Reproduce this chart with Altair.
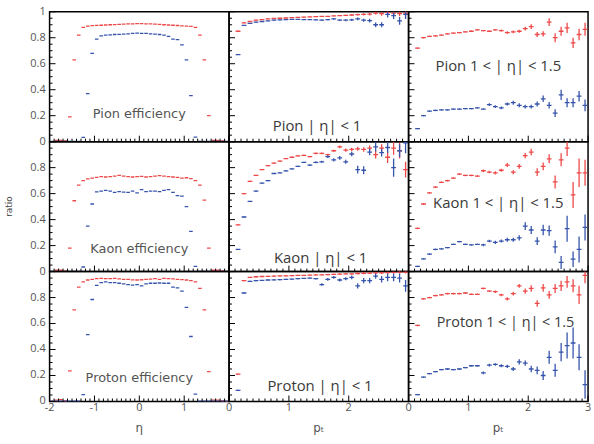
import altair as alt
import pandas as pd

# ---------------- data ----------------
ETA = [-1.95, -1.85, -1.75, -1.65, -1.55, -1.45, -1.35, -1.25, -1.15, -1.05,
       -0.95, -0.85, -0.75, -0.65, -0.55, -0.45, -0.35, -0.25, -0.15, -0.05,
       0.05, 0.15, 0.25, 0.35, 0.45, 0.55, 0.65, 0.75, 0.85, 0.95,
       1.05, 1.15, 1.25, 1.35, 1.45, 1.55, 1.65, 1.75, 1.85, 1.95]
PT = [0.15, 0.25, 0.35, 0.45, 0.55, 0.65, 0.75, 0.85, 0.95, 1.05,
      1.15, 1.25, 1.35, 1.45, 1.55, 1.65, 1.75, 1.85, 1.95, 2.05,
      2.15, 2.25, 2.35, 2.45, 2.55, 2.65, 2.75, 2.85, 2.95]

# efficiency vs eta
PION_ETA_RED = [0.0, 0.01, 0.01, 0.005, 0.19, 0.63, 0.82, 0.88, 0.89, 0.893,
                0.895, 0.896, 0.898, 0.9, 0.901, 0.902, 0.904, 0.906, 0.907, 0.908,
                0.908, 0.907, 0.906, 0.904, 0.902, 0.9, 0.898, 0.896, 0.894, 0.892,
                0.89, 0.887, 0.88, 0.82, 0.63, 0.2, 0.01, 0.01, 0.005, 0.0]
PION_ETA_BLUE = [0.002, 0.002, 0.002, 0.002, 0.002, 0.002, 0.002, 0.033, 0.37, 0.68,
                 0.79, 0.815, 0.82, 0.822, 0.825, 0.826, 0.828, 0.83, 0.833, 0.835,
                 0.834, 0.833, 0.83, 0.828, 0.825, 0.82, 0.81, 0.79, 0.785, 0.745,
                 0.63, 0.355, 0.035, 0.002, 0.002, 0.002, 0.002, 0.002, 0.002, 0.002]
KAON_ETA_RED = [0.0, 0.01, 0.01, 0.005, 0.18, 0.545, 0.665, 0.70, 0.713, 0.72,
                0.725, 0.73, 0.728, 0.73, 0.735, 0.74, 0.735, 0.73, 0.728, 0.73,
                0.732, 0.728, 0.73, 0.735, 0.738, 0.735, 0.73, 0.728, 0.725, 0.72,
                0.722, 0.715, 0.70, 0.665, 0.55, 0.18, 0.01, 0.01, 0.005, 0.0]
KAON_ETA_BLUE = [0.002, 0.002, 0.002, 0.002, 0.002, 0.002, 0.002, 0.035, 0.35, 0.52,
                 0.613, 0.62, 0.625, 0.62, 0.61, 0.615, 0.612, 0.61, 0.62, 0.605,
                 0.63, 0.615, 0.62, 0.62, 0.615, 0.625, 0.63, 0.61, 0.585, 0.58,
                 0.50, 0.31, 0.04, 0.002, 0.002, 0.002, 0.002, 0.002, 0.002, 0.002]
PROTON_ETA_RED = [0.0, 0.01, 0.015, 0.005, 0.235, 0.705, 0.88, 0.92, 0.935, 0.94,
                  0.945, 0.948, 0.946, 0.945, 0.948, 0.944, 0.94, 0.94, 0.936, 0.935,
                  0.937, 0.94, 0.942, 0.945, 0.94, 0.948, 0.946, 0.944, 0.94, 0.938,
                  0.935, 0.93, 0.92, 0.87, 0.705, 0.23, 0.01, 0.01, 0.005, 0.0]
PROTON_ETA_BLUE = [0.002, 0.002, 0.002, 0.002, 0.002, 0.002, 0.002, 0.053, 0.515, 0.785,
                   0.894, 0.915, 0.92, 0.915, 0.915, 0.91, 0.905, 0.90, 0.895, 0.90,
                   0.89, 0.905, 0.91, 0.91, 0.912, 0.91, 0.91, 0.88, 0.875, 0.85,
                   0.725, 0.50, 0.056, 0.002, 0.002, 0.002, 0.002, 0.002, 0.002, 0.002]

# ratio vs pt, |eta| < 1
PION_MID_RED = [0.85, 0.915, 0.925, 0.935, 0.94, 0.945, 0.948, 0.95, 0.952, 0.955,
                0.956, 0.958, 0.96, 0.962, 0.965, 0.965, 0.968, 0.97, 0.972, 0.975,
                0.978, 0.98, 0.982, 0.99, 0.985, 0.995, 0.99, 0.985, 0.99]
PION_MID_RED_ERR = [0.003, 0.003, 0.003, 0.003, 0.003, 0.003, 0.003, 0.003, 0.003, 0.003,
                    0.003, 0.003, 0.003, 0.003, 0.003, 0.003, 0.003, 0.003, 0.005, 0.006,
                    0.007, 0.008, 0.01, 0.012, 0.015, 0.015, 0.02, 0.02, 0.025]
PION_MID_BLUE = [0.67, 0.895, 0.91, 0.92, 0.925, 0.93, 0.935, 0.938, 0.94, 0.942,
                 0.942, 0.94, 0.94, 0.938, 0.936, 0.94, 0.945, 0.935, 0.935, 0.938,
                 0.945, 0.935, 0.932, 0.90, 0.90, 0.98, 0.97, 0.93, 0.98]
PION_MID_BLUE_ERR = [0.003, 0.003, 0.003, 0.003, 0.003, 0.003, 0.003, 0.003, 0.003, 0.003,
                     0.003, 0.003, 0.003, 0.004, 0.005, 0.005, 0.006, 0.007, 0.008, 0.009,
                     0.01, 0.012, 0.014, 0.018, 0.02, 0.025, 0.025, 0.03, 0.035]
KAON_MID_RED = [0.36, 0.60, 0.695, 0.74, 0.785, 0.815, 0.835, 0.85, 0.87, 0.88,
                0.89, 0.895, 0.885, 0.91, 0.91, 0.90, 0.93, 0.96, 0.935, 0.94,
                0.945, 0.94, 0.95, 0.90, 0.95, 0.88, 0.95, 0.93, 0.785]
KAON_MID_RED_ERR = [0.004, 0.004, 0.004, 0.004, 0.004, 0.004, 0.004, 0.004, 0.004, 0.004,
                    0.004, 0.004, 0.005, 0.006, 0.006, 0.007, 0.008, 0.01, 0.012, 0.013,
                    0.015, 0.017, 0.02, 0.03, 0.03, 0.045, 0.05, 0.06, 0.06]
KAON_MID_BLUE = [0.17, 0.42, 0.54, 0.62, 0.68, 0.70, 0.755, 0.76, 0.775, 0.79,
                 0.81, 0.84, 0.82, 0.84, 0.845, 0.885, 0.86, 0.875, 0.845, 0.905,
                 0.785, 0.78, 0.92, 0.96, 0.915, 0.955, 0.80, 0.93, 0.99]
KAON_MID_BLUE_ERR = [0.004, 0.004, 0.004, 0.004, 0.004, 0.004, 0.004, 0.004, 0.004, 0.004,
                     0.004, 0.004, 0.006, 0.007, 0.008, 0.01, 0.012, 0.014, 0.015, 0.018,
                     0.03, 0.03, 0.025, 0.035, 0.03, 0.04, 0.07, 0.05, 0.08]
PROTON_MID_RED = [0.21, 0.93, 0.955, 0.96, 0.962, 0.963, 0.965, 0.966, 0.967, 0.968,
                  0.97, 0.97, 0.972, 0.974, 0.975, 0.976, 0.978, 0.98, 0.982, 0.983,
                  0.985, 0.987, 0.988, 0.99, 0.99, 0.992, 0.993, 0.995, 0.995]
PROTON_MID_RED_ERR = [0.004, 0.004, 0.004, 0.004, 0.004, 0.004, 0.004, 0.004, 0.004, 0.004,
                      0.004, 0.004, 0.004, 0.004, 0.004, 0.004, 0.005, 0.005, 0.005, 0.006,
                      0.006, 0.007, 0.007, 0.008, 0.008, 0.009, 0.01, 0.01, 0.01]
PROTON_MID_BLUE = [0.086, 0.835, 0.925, 0.93, 0.932, 0.935, 0.936, 0.938, 0.94, 0.942,
                   0.945, 0.947, 0.95, 0.945, 0.90, 0.94, 0.955, 0.935, 0.945, 0.955,
                   0.89, 0.93, 0.93, 0.965, 0.94, 0.955, 0.955, 0.95, 0.89]
PROTON_MID_BLUE_ERR = [0.004, 0.004, 0.004, 0.004, 0.004, 0.004, 0.004, 0.004, 0.004, 0.004,
                       0.004, 0.004, 0.005, 0.006, 0.01, 0.01, 0.01, 0.012, 0.012, 0.014,
                       0.02, 0.02, 0.02, 0.02, 0.025, 0.03, 0.03, 0.035, 0.045]

# ratio vs pt, 1 < |eta| < 1.5
PION_FWD_RED = [0.72, 0.80, 0.81, 0.815, 0.82, 0.83, 0.835, 0.84, 0.845, 0.85,
                0.86, 0.855, 0.85, 0.86, 0.855, 0.84, 0.845, 0.85, 0.87, 0.885,
                0.825, 0.83, 0.92, 0.80, 0.85, 0.876, 0.76, 0.825, 0.865]
PION_FWD_RED_ERR = [0.005, 0.005, 0.005, 0.005, 0.005, 0.005, 0.005, 0.005, 0.005, 0.005,
                    0.005, 0.005, 0.005, 0.005, 0.008, 0.01, 0.01, 0.012, 0.015, 0.018,
                    0.02, 0.02, 0.03, 0.035, 0.035, 0.04, 0.04, 0.045, 0.05]
PION_FWD_BLUE = [0.10, 0.20, 0.235, 0.24, 0.245, 0.245, 0.25, 0.25, 0.255, 0.255,
                 0.26, 0.25, 0.285, 0.27, 0.26, 0.29, 0.30, 0.28, 0.27, 0.27,
                 0.29, 0.33, 0.28, 0.22, 0.36, 0.30, 0.30, 0.35, 0.28]
PION_FWD_BLUE_ERR = [0.005, 0.005, 0.005, 0.005, 0.005, 0.005, 0.005, 0.005, 0.005, 0.005,
                     0.005, 0.005, 0.01, 0.01, 0.01, 0.012, 0.015, 0.015, 0.015, 0.015,
                     0.02, 0.025, 0.025, 0.03, 0.04, 0.035, 0.035, 0.04, 0.045]
KAON_FWD_RED = [0.333, 0.52, 0.605, 0.65, 0.687, 0.70, 0.72, 0.75, 0.74, 0.74,
                0.735, 0.776, 0.766, 0.76, 0.78, 0.82, 0.765, 0.81, 0.893, 0.92,
                0.766, 0.81, 0.868, 0.69, 0.86, 0.95, 0.59, 0.76, 0.76]
KAON_FWD_RED_ERR = [0.006, 0.006, 0.006, 0.006, 0.006, 0.006, 0.006, 0.006, 0.006, 0.006,
                    0.006, 0.01, 0.01, 0.012, 0.012, 0.015, 0.015, 0.018, 0.02, 0.025,
                    0.03, 0.03, 0.035, 0.05, 0.05, 0.06, 0.1, 0.11, 0.1]
KAON_FWD_BLUE = [0.04, 0.097, 0.135, 0.17, 0.175, 0.185, 0.21, 0.23, 0.21, 0.205,
                 0.21, 0.205, 0.235, 0.225, 0.235, 0.245, 0.245, 0.26, 0.35, 0.32,
                 0.235, 0.32, 0.315, 0.19, 0.07, 0.33, 0.095, 0.17, 0.34]
KAON_FWD_BLUE_ERR = [0.005, 0.005, 0.005, 0.005, 0.005, 0.005, 0.005, 0.005, 0.005, 0.005,
                     0.005, 0.01, 0.01, 0.012, 0.012, 0.015, 0.015, 0.02, 0.03, 0.03,
                     0.03, 0.04, 0.04, 0.05, 0.05, 0.1, 0.06, 0.1, 0.1]
PROTON_FWD_RED = [0.585, 0.79, 0.80, 0.815, 0.82, 0.83, 0.83, 0.83, 0.835, 0.825,
                  0.825, 0.87, 0.85, 0.845, 0.82, 0.79, 0.83, 0.89, 0.85, 0.87,
                  0.755, 0.875, 0.82, 0.87, 0.89, 0.92, 0.89, 0.82, 0.97]
PROTON_FWD_RED_ERR = [0.006, 0.006, 0.006, 0.006, 0.006, 0.006, 0.006, 0.006, 0.006, 0.006,
                      0.006, 0.006, 0.006, 0.01, 0.01, 0.012, 0.015, 0.015, 0.02, 0.025,
                      0.025, 0.03, 0.03, 0.035, 0.04, 0.045, 0.05, 0.07, 0.06]
PROTON_FWD_BLUE = [0.053, 0.187, 0.215, 0.23, 0.245, 0.25, 0.245, 0.25, 0.26, 0.275,
                   0.275, 0.22, 0.28, 0.285, 0.275, 0.27, 0.25, 0.305, 0.295, 0.25,
                   0.24, 0.20, 0.34, 0.24, 0.38, 0.43, 0.45, 0.34, 0.13]
PROTON_FWD_BLUE_ERR = [0.005, 0.005, 0.005, 0.005, 0.005, 0.005, 0.005, 0.005, 0.005, 0.005,
                       0.005, 0.01, 0.01, 0.01, 0.012, 0.012, 0.015, 0.02, 0.02, 0.025,
                       0.03, 0.035, 0.05, 0.05, 0.07, 0.1, 0.12, 0.1, 0.11]

LABELS = [
    ["Pion efficiency", "Pion | η| < 1", "Pion 1 < | η| < 1.5"],
    ["Kaon efficiency", "Kaon | η| < 1", "Kaon 1 < | η| < 1.5"],
    ["Proton efficiency", "Proton | η| < 1", "Proton 1 < | η| < 1.5"],
]
X_TITLES = ["η", "pₜ", "pₜ"]
Y_TITLE = "ratio"

# axis tick positions and tick labels
Y_LABELS_TOP = [0, 0.2, 0.4, 0.6, 0.8, 1]
Y_LABELS = [0, 0.2, 0.4, 0.6, 0.8]
X_LABELS = [[-2, -1, 0, 1], [0, 1, 2], [0, 1, 2, 3]]
Y_MAJOR_TICKS = [0, 0.2, 0.4, 0.6, 0.8, 1.0]
Y_MINOR_TICKS = [round(0.05 * i, 2) for i in range(21) if i % 4 != 0]
ETA_MAJOR_TICKS = [-2, -1, 0, 1, 2]
ETA_MINOR_TICKS = [round(-2 + 0.1 * i, 2) for i in range(41) if i % 10 != 0]
PT_MAJOR_TICKS = [0, 1, 2, 3]
PT_MINOR_TICKS = [round(0.1 * i, 2) for i in range(31) if i % 10 != 0]

# ---------------- style ----------------
RED = "#ee4848"
BLUE = "#3654ab"
AXIS_FONT = "Open Sans"
LABEL_GREY = "#555555"
W, H = 181, 131
MINOR_LEN, MAJOR_LEN = 3, 6   # tick lengths in pixels


def table(xs, red, blue, hw, red_err=None, blue_err=None):
    rows = []
    for name, vals, errs in (("red", red, red_err), ("blue", blue, blue_err)):
        for i, (x, v) in enumerate(zip(xs, vals)):
            e = errs[i] if errs is not None else 0.0
            rows.append({"x": x, "xl": x - hw, "xh": x + hw, "y": v,
                         "yl": v - e, "yh": v + e, "s": name})
    return pd.DataFrame(rows)


def panel(df, row, col, text, tx, ty, tsize, tcolor, tfont, with_err):
    is_eta = col == 0
    xdom = [-2, 2] if is_eta else [0, 3]
    xscale = alt.Scale(domain=xdom, nice=False, zero=False)
    yscale = alt.Scale(domain=[0, 1], nice=False, zero=False)
    color = alt.Color("s:N", scale=alt.Scale(domain=["red", "blue"], range=[RED, BLUE]),
                      legend=None)

    base = alt.Chart(df)
    layers = [base.mark_rule(strokeWidth=1.3, clip=True).encode(
        x=alt.X("xl:Q", scale=xscale, axis=None),
        x2="xh:Q",
        y=alt.Y("y:Q", scale=yscale, axis=None),
        color=color,
    )]
    if with_err:
        layers.append(base.mark_rule(strokeWidth=1.3, clip=True).encode(
            x=alt.X("x:Q", scale=xscale, axis=None),
            y=alt.Y("yl:Q", scale=yscale, axis=None),
            y2="yh:Q",
            color=color,
        ))

    # inward tick marks on the left and bottom edges (pixel lengths -> scale units)
    x_per_px = (xdom[1] - xdom[0]) / W
    y_per_px = 1.0 / H
    for vals, length in ((Y_MINOR_TICKS, MINOR_LEN), (Y_MAJOR_TICKS, MAJOR_LEN)):
        tdf = pd.DataFrame({"v": vals, "a": [xdom[0]] * len(vals),
                            "b": [xdom[0] + length * x_per_px] * len(vals)})
        layers.append(alt.Chart(tdf).mark_rule(color="black", strokeWidth=1).encode(
            y=alt.Y("v:Q", scale=yscale, axis=None),
            x=alt.X("a:Q", scale=xscale, axis=None), x2="b:Q"))
    xmaj = ETA_MAJOR_TICKS if is_eta else PT_MAJOR_TICKS
    xmin = ETA_MINOR_TICKS if is_eta else PT_MINOR_TICKS
    for vals, length in ((xmin, MINOR_LEN), (xmaj, MAJOR_LEN)):
        tdf = pd.DataFrame({"v": vals, "a": [0.0] * len(vals),
                            "b": [length * y_per_px] * len(vals)})
        layers.append(alt.Chart(tdf).mark_rule(color="black", strokeWidth=1).encode(
            x=alt.X("v:Q", scale=xscale, axis=None),
            y=alt.Y("a:Q", scale=yscale, axis=None), y2="b:Q"))

    # tick labels and axis titles as text marks
    if col == 0:
        yl = Y_LABELS_TOP if row == 0 else Y_LABELS
        layers.append(alt.Chart(pd.DataFrame({"v": yl, "t": [f"{v:g}" for v in yl]})).mark_text(
            align="right", baseline="middle", dx=-4, font=AXIS_FONT, fontSize=11,
            color=LABEL_GREY).encode(
            y=alt.Y("v:Q", scale=yscale, axis=None), x=alt.value(0), text="t:N"))
        if row == 1:
            layers.append(alt.Chart(alt.Data(values=[{}])).mark_text(
                text=Y_TITLE, angle=270, align="center", baseline="middle",
                font="DejaVu Sans", fontSize=9, color="#444444").encode(
                x=alt.value(-41), y=alt.value(H / 2)))
    if row == 2:
        xl = X_LABELS[col]
        layers.append(alt.Chart(pd.DataFrame({"v": xl, "t": [f"{v:g}" for v in xl]})).mark_text(
            align="center", baseline="top", font=AXIS_FONT, fontSize=11,
            color=LABEL_GREY).encode(
            x=alt.X("v:Q", scale=xscale, axis=None), y=alt.value(H + 1), text="t:N"))
        layers.append(alt.Chart(alt.Data(values=[{}])).mark_text(
            text=X_TITLES[col], align="center", baseline="middle",
            font="DejaVu Sans", fontSize=12, color=LABEL_GREY).encode(
            x=alt.value(W / 2), y=alt.value(H + 27)))

    layers.append(alt.Chart(alt.Data(values=[{}])).mark_text(
        text=text, font=tfont, fontSize=tsize, color=tcolor, align="center",
        baseline="middle",
    ).encode(
        x=alt.X(datum=tx, scale=xscale, axis=None),
        y=alt.Y(datum=ty, scale=yscale, axis=None),
    ))
    return alt.layer(*layers).properties(width=W, height=H)


panels = [
    panel(table(ETA, PION_ETA_RED, PION_ETA_BLUE, 0.04), 0, 0,
          LABELS[0][0], 0.0, 0.21, 13, "#555555", "DejaVu Sans", False),
    panel(table(PT, PION_MID_RED, PION_MID_BLUE, 0.04, PION_MID_RED_ERR, PION_MID_BLUE_ERR),
          0, 1, LABELS[0][1], 1.47, 0.12, 15, "#3a3a3a", "Open Sans", True),
    panel(table(PT, PION_FWD_RED, PION_FWD_BLUE, 0.04, PION_FWD_RED_ERR, PION_FWD_BLUE_ERR),
          0, 2, LABELS[0][2], 1.5, 0.585, 15, "#3a3a3a", "Open Sans", True),
    panel(table(ETA, KAON_ETA_RED, KAON_ETA_BLUE, 0.04), 1, 0,
          LABELS[1][0], 0.0, 0.175, 13, "#555555", "DejaVu Sans", False),
    panel(table(PT, KAON_MID_RED, KAON_MID_BLUE, 0.04, KAON_MID_RED_ERR, KAON_MID_BLUE_ERR),
          1, 1, LABELS[1][1], 1.53, 0.107, 15, "#3a3a3a", "Open Sans", True),
    panel(table(PT, KAON_FWD_RED, KAON_FWD_BLUE, 0.04, KAON_FWD_RED_ERR, KAON_FWD_BLUE_ERR),
          1, 2, LABELS[1][2], 1.5, 0.527, 15, "#3a3a3a", "Open Sans", True),
    panel(table(ETA, PROTON_ETA_RED, PROTON_ETA_BLUE, 0.04), 2, 0,
          LABELS[2][0], 0.0, 0.18, 13, "#555555", "DejaVu Sans", False),
    panel(table(PT, PROTON_MID_RED, PROTON_MID_BLUE, 0.04, PROTON_MID_RED_ERR, PROTON_MID_BLUE_ERR),
          2, 1, LABELS[2][1], 1.52, 0.12, 15, "#3a3a3a", "Open Sans", True),
    panel(table(PT, PROTON_FWD_RED, PROTON_FWD_BLUE, 0.04, PROTON_FWD_RED_ERR, PROTON_FWD_BLUE_ERR),
          2, 2, LABELS[2][2], 1.62, 0.606, 14.5, "#3a3a3a", "Open Sans", True),
]

chart = alt.concat(*panels, columns=3, spacing=0, bounds="flush").properties(
    padding={"left": 4, "top": 3, "right": 2, "bottom": 2},
    background="white",
).configure_view(stroke="black", strokeWidth=1.5)

chart.save("out.html", embed_options={"renderer": "svg", "actions": False})
